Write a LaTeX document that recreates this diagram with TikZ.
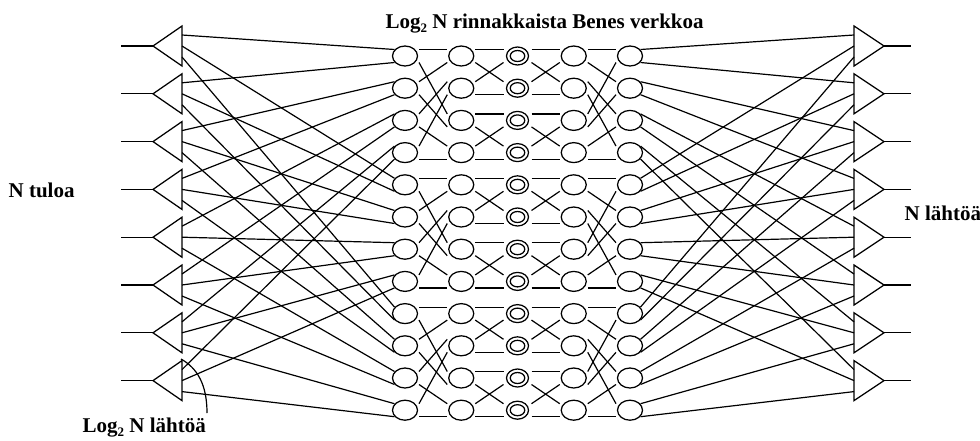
\documentclass[tikz,border=0pt]{standalone}
\usepackage{fontspec}
\setmainfont{Liberation Serif}
\usetikzlibrary{shapes.geometric}
\begin{document}
\begin{tikzpicture}[x=1pt,y=-1pt,line width=1.25pt,
  sw/.style={ellipse,draw,minimum width=25pt,minimum height=20pt,inner sep=0pt},
  dsw/.style={ellipse,draw,minimum width=22pt,minimum height=18pt,inner sep=0pt},
  dswin/.style={ellipse,draw,minimum width=14.5pt,minimum height=11pt,inner sep=0pt},
  wire/.style={line width=1.2pt},
  tri/.style={line width=1.25pt,line join=miter},
  lbl/.style={font=\fontsize{21}{24}\selectfont\bfseries,inner sep=0pt,anchor=base west}]
\useasboundingbox (0,0) rectangle (980,440);
\newcommand{\logtwo}{Log\raisebox{-0.22em}{\fontsize{13}{13}\selectfont 2}}
% switches
\foreach \r in {0,...,11} {
  \foreach \c in {0,...,4} {
    \pgfmathsetmacro\cx{405+56.25*\c}
    \pgfmathsetmacro\cy{56+32.2*\r}
    \ifnum\c=2
      \node[dsw] (n\r-\c) at (\cx,\cy) {};
      \node[dswin] (n\r-\c-in) at (\cx,\cy) {};
    \else
      \node[sw] (n\r-\c) at (\cx,\cy) {};
    \fi
    \ifnum\c=0
      \coordinate (n\r-\c-l0) at (\cx-10.5,\cy-6.5);
      \coordinate (n\r-\c-l1) at (\cx-10.5,\cy+6.5);
    \else
      \coordinate (n\r-\c-l0) at (\cx-14,\cy-6.5);
      \coordinate (n\r-\c-l1) at (\cx-14,\cy+6.5);
    \fi
    \ifnum\c=4
      \coordinate (n\r-\c-r0) at (\cx+10.5,\cy-6.5);
      \coordinate (n\r-\c-r1) at (\cx+10.5,\cy+6.5);
    \else
      \coordinate (n\r-\c-r0) at (\cx+14,\cy-6.5);
      \coordinate (n\r-\c-r1) at (\cx+14,\cy+6.5);
    \fi
  }
}
% triangles
\foreach \i in {0,...,7} {
  \pgfmathsetmacro\ty{46+47.8*\i}
  \coordinate (tl\i-src) at (121,\ty);
  \coordinate (tl\i-tip) at (153,\ty);
  \coordinate (tl\i-o0) at (182,\ty-11);
  \coordinate (tl\i-o1) at (182,\ty);
  \coordinate (tl\i-o2) at (182,\ty+11);
  \draw[tri] (tl\i-tip) -- (182,\ty-20) -- (182,\ty+20) -- cycle;
  \draw[wire] (tl\i-src) -- (tl\i-tip);
  \coordinate (tr\i-i0) at (854,\ty-11);
  \coordinate (tr\i-i1) at (854,\ty);
  \coordinate (tr\i-i2) at (854,\ty+11);
  \coordinate (tr\i-tip) at (884,\ty);
  \coordinate (tr\i-dst) at (911,\ty);
  \draw[tri] (tr\i-tip) -- (854,\ty-20) -- (854,\ty+20) -- cycle;
  \draw[wire] (tr\i-tip) -- (tr\i-dst);
}
% splitter / combiner wiring
\foreach \i in {0,...,7} {
  \foreach \k in {0,1,2} {
    \pgfmathtruncatemacro\myrow{4*\k+int(\i/2)}
    \pgfmathtruncatemacro\myport{mod(\i,2)}
    \draw[wire] (tl\i-o\k) -- (n\myrow-0-l\myport);
    \draw[wire] (n\myrow-4-r\myport) -- (tr\i-i\k);
  }
}
% Benes internal wiring
\foreach \k in {0,1,2} {
  \foreach \j in {0,...,3} {
    \foreach \p in {0,1} {
      \pgfmathtruncatemacro\myA{4*\k+\j}
      \pgfmathtruncatemacro\myB{4*\k+2*\p+int(\j/2)}
      \pgfmathtruncatemacro\myS{mod(\j,2)}
      \draw[wire] (n\myA-0-r\p) -- (n\myB-1-l\myS);
      \pgfmathtruncatemacro\myQ{4*\k+2*int(\j/2)+\p}
      \draw[wire] (n\myA-1-r\p) -- (n\myQ-2-l\myS);
      \draw[wire] (n\myA-2-r\p) -- (n\myQ-3-l\myS);
      \pgfmathtruncatemacro\myD{4*\k+2*mod(\j,2)+\p}
      \pgfmathtruncatemacro\myE{int(\j/2)}
      \draw[wire] (n\myA-3-r\p) -- (n\myD-4-l\myE);
    }
  }
}
% labels
\node[lbl] (title) at (385,28) {\logtwo{} N rinnakkaista Benes verkkoa};
\node[lbl] (inl) at (8,197) {N tuloa};
\node[lbl] (outl) at (904,220) {N lähtöä};
\node[lbl] (spl) at (82,432) {\logtwo{} N lähtöä};
\coordinate (annA) at (181,359);
\coordinate (annB) at (207,413);
\draw[wire] (annA) .. controls (197,368) and (207,384) .. (annB);
\end{tikzpicture}
\end{document}
